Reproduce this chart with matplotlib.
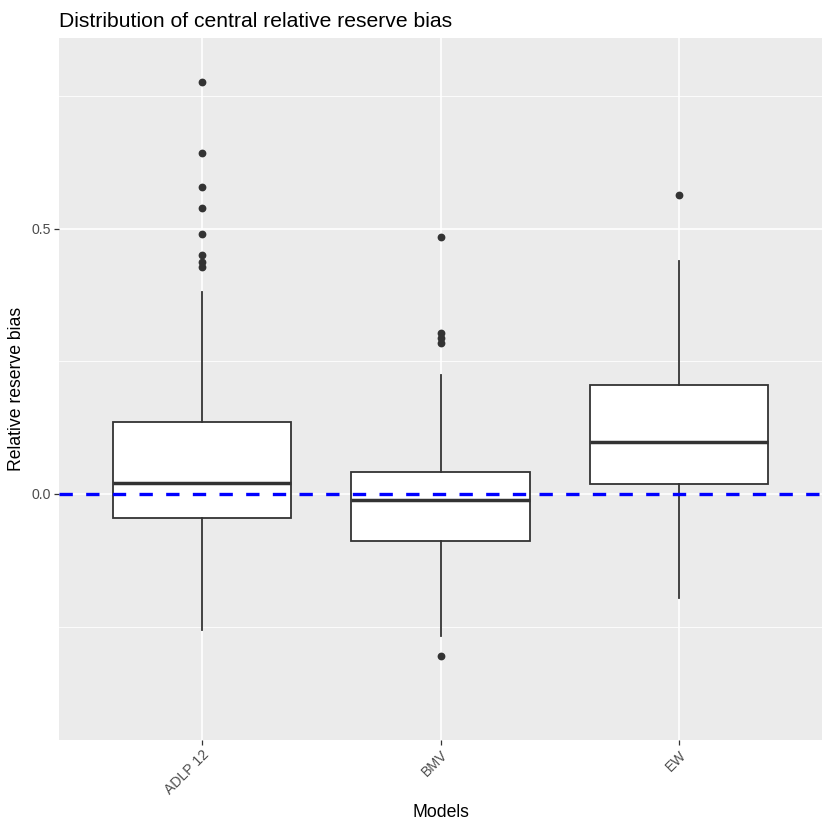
import matplotlib.pyplot as plt

# Box statistics
models = ["ADLP 12", "BMV", "EW"]
q1 = [-0.045, -0.089, 0.019]
medians = [0.021, -0.011, 0.098]
q3 = [0.136, 0.0415, 0.206]
whisker_low = [-0.257, -0.268, -0.196]
whisker_high = [0.381, 0.225, 0.440]
outliers = [
    [0.777, 0.643, 0.579, 0.540, 0.491, 0.451, 0.438, 0.428],
    [0.485, 0.304, 0.294, 0.285, -0.306],
    [0.564],
]

stats = []
for i in range(len(models)):
    stats.append({
        "label": models[i],
        "q1": q1[i],
        "med": medians[i],
        "q3": q3[i],
        "whislo": whisker_low[i],
        "whishi": whisker_high[i],
        "fliers": outliers[i],
    })

plt.rcParams["font.family"] = ["Liberation Sans", "DejaVu Sans"]

fig = plt.figure(figsize=(8.3, 8.3), dpi=100)
ax = fig.add_axes([59 / 830, 1 - 740 / 830, (822 - 59) / 830, (740 - 38) / 830])
ax.set_facecolor("#EBEBEB")

dark = "#333333"
positions = [1, 2, 3]
ax.bxp(
    stats,
    positions=positions,
    widths=0.75,
    patch_artist=True,
    boxprops=dict(facecolor="white", edgecolor=dark, linewidth=1.3),
    medianprops=dict(color=dark, linewidth=2.5),
    whiskerprops=dict(color=dark, linewidth=1.3),
    capprops=dict(linewidth=0),
    showcaps=False,
    flierprops=dict(marker="o", markerfacecolor=dark, markeredgecolor=dark,
                    markersize=4.6),
    zorder=3,
)

ax.axhline(0, color="blue", linewidth=2.4, linestyle=(0, (4, 4)), zorder=4)

ax.set_xlim(0.4, 3.6)
ax.set_ylim(-0.464, 0.860)

ax.set_yticks([0.0, 0.5])
ax.set_yticklabels(["0.0", "0.5"])
ax.set_yticks([-0.25, 0.25, 0.75], minor=True)
ax.set_xticks(positions)
ax.set_xticklabels(models, rotation=45, ha="right", va="top",
                   rotation_mode="anchor")

ax.grid(True, which="major", color="white", linewidth=1.2, zorder=0)
ax.grid(True, which="minor", axis="y", color="white", linewidth=0.6, zorder=0)
ax.set_axisbelow(True)

for side in ax.spines.values():
    side.set_visible(False)

ax.tick_params(which="major", length=3.5, width=0.9, color=dark,
               labelsize=10.2, labelcolor="#4D4D4D", pad=2)
ax.tick_params(which="minor", length=0)

ax.set_xlabel("Models", fontsize=12.7, color="black", labelpad=5)
ax.set_ylabel("Relative reserve bias", fontsize=12.7, color="black", labelpad=5)
ax.set_title("Distribution of central relative reserve bias", fontsize=15.2,
             loc="left", pad=8)

fig.savefig("out.png", dpi=100)
